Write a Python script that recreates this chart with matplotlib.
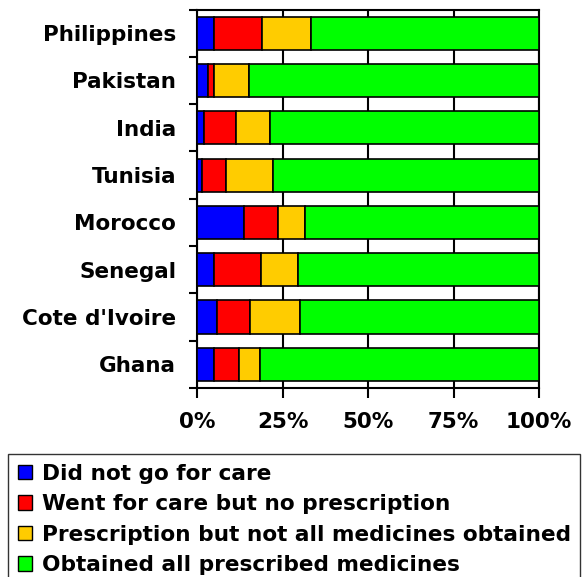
import matplotlib
matplotlib.use("Agg")
import matplotlib.pyplot as plt
from matplotlib.patches import Patch
import numpy as np

countries = ["Philippines", "Pakistan", "India", "Tunisia",
             "Morocco", "Senegal", "Cote d'Ivoire", "Ghana"]
did_not_go = [5.1, 3.3, 2.1, 1.6, 13.7, 4.9, 5.9, 5.1]
no_prescription = [13.9, 1.8, 9.4, 7.0, 9.9, 13.7, 9.7, 7.2]
not_all_obtained = [14.3, 10.2, 9.7, 13.7, 8.1, 10.9, 14.4, 6.2]
all_obtained = [66.7, 84.7, 78.8, 77.7, 68.3, 70.5, 70.0, 81.5]

series = [did_not_go, no_prescription, not_all_obtained, all_obtained]
labels = ["Did not go for care", "Went for care but no prescription",
          "Prescription but not all medicines obtained",
          "Obtained all prescribed medicines"]
colors = ["#0000ff", "#ff0000", "#ffcc00", "#00ff00"]
xticks = [0, 25, 50, 75, 100]

plt.rcParams["font.family"] = "DejaVu Sans"
plt.rcParams["font.weight"] = "bold"

fig = plt.figure(figsize=(5.82, 5.77), dpi=100)
ax = fig.add_axes([197 / 582, 1 - 388 / 577, 342 / 582, (388 - 9.5) / 577])

y = np.arange(len(countries))
left = np.zeros(len(countries))
for vals, col in zip(series, colors):
    ax.barh(y, vals, left=left, height=0.7, color=col,
            edgecolor="black", linewidth=1.2, zorder=3)
    left += np.array(vals)

ax.set_xlim(0, 100)
ax.set_ylim(len(countries) - 0.5, -0.5)

ax.set_xticks(xticks)
ax.set_xticklabels([f"{t}%" for t in xticks], fontsize=15.5, fontweight="bold")
ax.tick_params(axis="x", direction="out", length=7.2, width=1.5, pad=10)

ax.set_yticks(y)
ax.set_yticklabels(countries, fontsize=15.5, fontweight="bold")
ax.tick_params(axis="y", which="major", length=0, pad=15)
ax.set_yticks(np.arange(-0.5, len(countries)), minor=True)
ax.tick_params(axis="y", which="minor", direction="out", length=5.8, width=1.5)

ax.xaxis.grid(True, color="black", linewidth=1.5)
ax.set_axisbelow(True)
for s in ax.spines.values():
    s.set_linewidth(1.5)

handles = [Patch(facecolor=c, edgecolor="black", linewidth=1) for c in colors]
leg = fig.legend(handles, labels, loc="upper left",
                 bbox_to_anchor=(8 / 582, 1 - 454 / 577),
                 bbox_transform=fig.transFigure,
                 prop={"size": 15.6, "weight": "bold"},
                 frameon=True, fancybox=False, edgecolor="black",
                 handlelength=0.65, handleheight=0.65, handletextpad=0.45,
                 borderpad=0.45, labelspacing=0.48, borderaxespad=0)
leg.get_frame().set_linewidth(1)

fig.savefig("out.png", dpi=100)
